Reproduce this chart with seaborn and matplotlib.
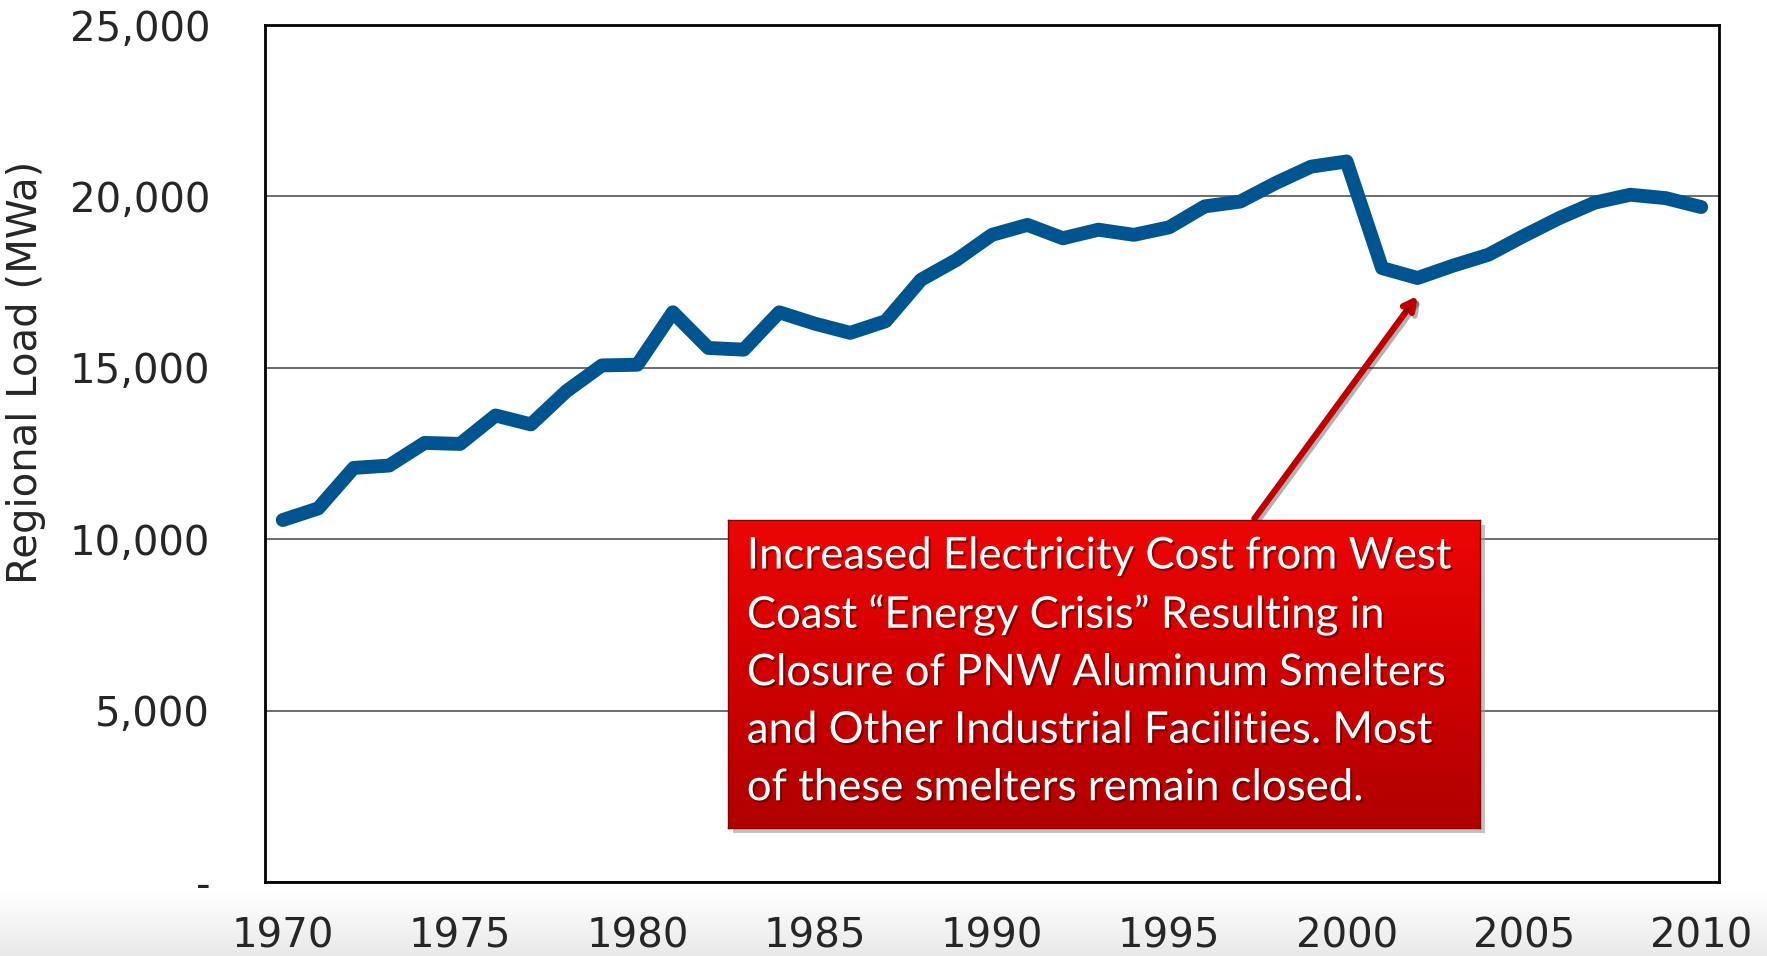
import numpy as np
import pandas as pd
import seaborn as sns
import matplotlib.pyplot as plt
from matplotlib.ticker import FixedLocator, FuncFormatter
from matplotlib.colors import LinearSegmentedColormap
import matplotlib.patheffects as pe

# regional load by year
years = list(range(1970, 2011))
load_mwa = [10560, 10900, 12080, 12150, 12810, 12780, 13610, 13350, 14320, 15070,
            15090, 16620, 15580, 15530, 16620, 16290, 16020, 16360, 17570, 18150,
            18880, 19170, 18780, 19030, 18880, 19100, 19710, 19850, 20390, 20870,
            21020, 17910, 17620, 17980, 18300, 18850, 19370, 19820, 20050, 19950,
            19690]
y_ticks = [0, 5000, 10000, 15000, 20000, 25000]
x_labels = [1970, 1975, 1980, 1985, 1990, 1995, 2000, 2005, 2010]

note = ("Increased Electricity Cost from West\n"
        "Coast \u201cEnergy Crisis\u201d Resulting in\n"
        "Closure of PNW Aluminum Smelters\n"
        "and Other Industrial Facilities. Most\n"
        "of these smelters remain closed.")
arrow_tip = (2002, 17100)
arrow_tail = (1997.4, 10600)

df = pd.DataFrame({"year": years, "load": load_mwa})

sns.set_style("white")
plt.rcParams['font.family'] = ['DejaVu Sans']

fig = plt.figure(figsize=(17.67, 9.56), dpi=100)

# light grey slide band at the bottom
bg = fig.add_axes([0, 0, 1, 0.066], zorder=-5)
grad = np.linspace(0, 1, 100).reshape(-1, 1)
bg.imshow(grad, aspect='auto', cmap=LinearSegmentedColormap.from_list('g', ['#e9e9e9', '#ffffff']),
          origin='lower', extent=[0, 1, 0, 1])
bg.axis('off')

ax = fig.add_axes([0.15, 0.0774, 0.8228, 0.8964])
ax.patch.set_alpha(0)
sns.lineplot(data=df, x="year", y="load", ax=ax, color="#005590", lw=10,
             solid_capstyle='round', solid_joinstyle='round')

ax.set_xlim(1969.5, 2010.5)
ax.set_ylim(0, 25000)
ax.yaxis.set_major_locator(FixedLocator(y_ticks))
ax.yaxis.set_major_formatter(FuncFormatter(lambda v, p: '-' if v == 0 else f'{v:,.0f}'))
ax.xaxis.set_major_locator(FixedLocator(x_labels))
ax.xaxis.set_minor_locator(FixedLocator(np.arange(1969.5, 2011, 1)))
ax.tick_params(axis='x', which='major', length=0, pad=25, labelsize=29)
ax.tick_params(axis='x', which='minor', length=9.5, width=1.2, color='#555555', direction='out')
ax.tick_params(axis='y', length=9.5, width=1.2, color='#555555', direction='out', pad=30, labelsize=29)
ax.grid(axis='y', color='#444444', lw=1.1)
ax.set_axisbelow(True)
for s in ax.spines.values():
    s.set_color('black')
    s.set_linewidth(2)
ax.set_xlabel('')
ax.set_ylabel('Regional Load (MWa)', fontsize=29)
ax.yaxis.set_label_coords(-0.151, 0.595)

ax.annotate('', xy=arrow_tip, xytext=arrow_tail,
            arrowprops=dict(arrowstyle='->,head_length=0.75,head_width=0.4',
                            color='#C00000', lw=4.5, shrinkA=0, shrinkB=0,
                            path_effects=[pe.SimpleLineShadow(offset=(2, -2), alpha=0.3), pe.Normal()]))

# red callout box with a soft shadow
box_rect = [0.412, 0.134, 0.4256, 0.322]
shadow = fig.add_axes([box_rect[0] + 0.003, box_rect[1] - 0.005, box_rect[2], box_rect[3]], zorder=4)
shadow.set_facecolor('#999999')
shadow.patch.set_alpha(0.6)
shadow.set_xticks([]); shadow.set_yticks([])
for s in shadow.spines.values():
    s.set_visible(False)

box = fig.add_axes(box_rect, zorder=5)
red = LinearSegmentedColormap.from_list('r', ['#b00000', '#d00000', '#ec0606'])
box.imshow(grad, aspect='auto', cmap=red, origin='lower', extent=[0, 1, 0, 1])
box.set_xlim(0, 1); box.set_ylim(0, 1)
box.set_xticks([]); box.set_yticks([])
for s in box.spines.values():
    s.set_color('#8a0000'); s.set_linewidth(1)
box.text(0.025, 0.95, note, transform=box.transAxes, va='top', ha='left', color='white',
         fontsize=31.5, family=['Lato', 'DejaVu Sans'], linespacing=1.5,
         path_effects=[pe.withSimplePatchShadow(offset=(1.5, -1.5), shadow_rgbFace='#500000', alpha=0.6)])

fig.savefig('out.png', dpi=100)
